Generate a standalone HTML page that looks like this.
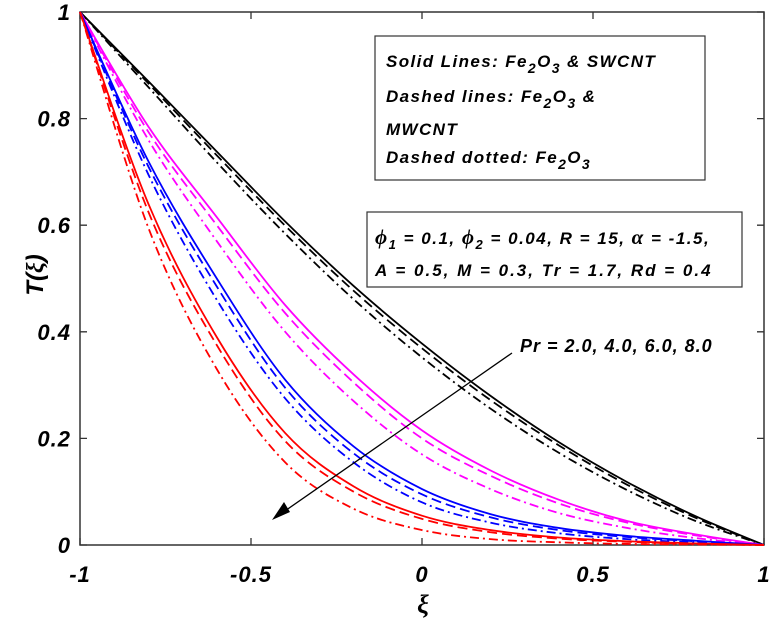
<!DOCTYPE html>
<html><head><meta charset="utf-8"><style>
html,body{margin:0;padding:0;background:#fff;}
svg{display:block;font-family:"Liberation Sans",Arial,sans-serif;}
.t{font-weight:bold;font-style:italic;}
.lg{font-size:17px;letter-spacing:1.4px;}
</style></head><body>
<svg id="chart" width="769" height="624" viewBox="0 0 769 624">
<rect x="80" y="12" width="684" height="533" fill="#fff" stroke="#333" stroke-width="1.5"/>
<g id="ticks"></g>
<g id="curves"></g>
<g>
<rect x="375" y="36" width="330" height="144" fill="#fff" stroke="#333" stroke-width="1.2"/>
<text class="t lg" x="386" y="67">Solid Lines: Fe<tspan dy="6" font-size="14">2</tspan><tspan dy="-6">O</tspan><tspan dy="6" font-size="14">3</tspan><tspan dy="-6"> &amp; SWCNT</tspan></text>
<text class="t lg" x="386" y="102">Dashed lines: Fe<tspan dy="6" font-size="14">2</tspan><tspan dy="-6">O</tspan><tspan dy="6" font-size="14">3</tspan><tspan dy="-6"> &amp;</tspan></text>
<text class="t lg" x="386" y="135">MWCNT</text>
<text class="t lg" x="386" y="163">Dashed dotted: Fe<tspan dy="6" font-size="14">2</tspan><tspan dy="-6">O</tspan><tspan dy="6" font-size="14">3</tspan></text>
</g>
<g>
<rect x="367" y="212" width="375" height="75" fill="#fff" stroke="#333" stroke-width="1.2"/>
<text class="t lg" x="375" y="244" style="letter-spacing:1.5px"><tspan font-family="Liberation Serif" font-size="21">ϕ</tspan><tspan dy="5" font-size="13">1</tspan><tspan dy="-5"> = 0.1, </tspan><tspan font-family="Liberation Serif" font-size="21">ϕ</tspan><tspan dy="5" font-size="13">2</tspan><tspan dy="-5"> = 0.04, R = 15, </tspan><tspan font-family="Liberation Serif" font-size="21">α</tspan><tspan> = -1.5,</tspan></text>
<text class="t lg" x="375" y="276" style="letter-spacing:2px">A = 0.5,  M = 0.3, Tr = 1.7, Rd = 0.4</text>
</g>
<g>
<line x1="512" y1="353" x2="282" y2="513" stroke="#000" stroke-width="1.3"/>
<polygon points="272,520 284,502 290,512" fill="#000"/>
<text class="t" x="520" y="352" font-size="18" style="letter-spacing:1px">Pr = 2.0, 4.0, 6.0, 8.0</text>
</g>
<text class="t" x="0" y="0" font-size="24" transform="translate(43,275) rotate(-90)" text-anchor="middle">T(<tspan font-family="Liberation Serif">ξ</tspan>)</text>
<text class="t" x="423" y="613" font-size="26" font-family="Liberation Serif" text-anchor="middle">ξ</text>
</svg>
<script>
const xTicks=[-1,-0.5,0,0.5,1];
const xTickLabels=["-1","-0.5","0","0.5","1"];
const yTicks=[0,0.2,0.4,0.6,0.8,1];
const yTickLabels=["0","0.2","0.4","0.6","0.8","1"];
const xiValues=[-1,-0.8,-0.6,-0.4,-0.2,0,0.2,0.4,0.6,0.8,1];
const blackSolid=[1,0.87,0.738,0.607,0.486,0.378,0.28,0.193,0.118,0.054,0];
const blackDashed=[1,0.866,0.731,0.599,0.477,0.369,0.272,0.187,0.113,0.051,0];
const blackDashDot=[1,0.859,0.718,0.584,0.461,0.352,0.256,0.173,0.103,0.045,0];
const magentaSolid=[1,0.785,0.615,0.45,0.32,0.215,0.14,0.085,0.045,0.02,0];
const magentaDashed=[1,0.775,0.6,0.435,0.305,0.2,0.13,0.078,0.042,0.018,0];
const magentaDashDot=[1,0.76,0.57,0.4,0.27,0.17,0.105,0.06,0.032,0.013,0];
const blueSolid=[1,0.72,0.5,0.31,0.185,0.105,0.058,0.032,0.017,0.008,0];
const blueDashed=[1,0.71,0.485,0.295,0.172,0.095,0.052,0.028,0.015,0.007,0];
const blueDashDot=[1,0.695,0.46,0.275,0.155,0.08,0.042,0.022,0.011,0.005,0];
const redSolid=[1,0.64,0.39,0.21,0.11,0.055,0.028,0.014,0.007,0.003,0];
const redDashed=[1,0.625,0.375,0.195,0.1,0.049,0.024,0.012,0.006,0.002,0];
const redDashDot=[1,0.595,0.33,0.155,0.068,0.028,0.011,0.005,0.002,0.001,0];
const X0=80,X1=764,Y0=545,Y1=12;
function sx(v){return X0+(v+1)/2*(X1-X0);}
function sy(v){return Y0-v*(Y0-Y1);}
const NS="http://www.w3.org/2000/svg";
const tg=document.getElementById('ticks');
xTicks.forEach((v,i)=>{
 const x=sx(v);
 const l=document.createElementNS(NS,'path');
 l.setAttribute('d',`M${x},${Y0}V${Y0-7}M${x},${Y1}V${Y1+7}`);
 l.setAttribute('stroke','#333');l.setAttribute('stroke-width','1.3');
 
 
 tg.appendChild(l);
 const t=document.createElementNS(NS,'text');
 t.setAttribute('x',x);t.setAttribute('y',582);t.setAttribute('text-anchor','middle');
 t.setAttribute('class','t');t.setAttribute('font-size','22');t.setAttribute('style','letter-spacing:1px');t.textContent=xTickLabels[i];
 
 
 tg.appendChild(t);
});
yTicks.forEach((v,i)=>{
 const y=sy(v);
 const l=document.createElementNS(NS,'path');
 l.setAttribute('d',`M${X0},${y}H${X0+7}M${X1},${y}H${X1-7}`);
 l.setAttribute('stroke','#333');l.setAttribute('stroke-width','1.3');
 
 
 tg.appendChild(l);
 const t=document.createElementNS(NS,'text');
 t.setAttribute('x',71);t.setAttribute('y',y+8);t.setAttribute('text-anchor','end');
 t.setAttribute('class','t');t.setAttribute('font-size','22');t.setAttribute('style','letter-spacing:1px');t.textContent=yTickLabels[i];
 
 
 tg.appendChild(t);
});
function pathFor(vals){
 const p=xiValues.map((x,i)=>[sx(x),sy(vals[i])]);
 let d=`M${p[0][0]},${p[0][1]}`;
 for(let i=0;i<p.length-1;i++){
  const a=p[Math.max(0,i-1)],b=p[i],c=p[i+1],e=p[Math.min(p.length-1,i+2)];
  const c1=[b[0]+(c[0]-a[0])/6,b[1]+(c[1]-a[1])/6];
  const c2=[c[0]-(e[0]-b[0])/6,c[1]-(e[1]-b[1])/6];
  d+=`C${c1[0]},${c1[1]} ${c2[0]},${c2[1]} ${c[0]},${c[1]}`;
 }
 return d;
}
const styles={solid:'',dashed:'10,5',dashdot:'9,4,2,4'};
const series=[
 ['black-solid',blackSolid,'#000','solid'],['black-dashed',blackDashed,'#000','dashed'],['black-dashdot',blackDashDot,'#000','dashdot'],
 ['magenta-solid',magentaSolid,'#f0f','solid'],['magenta-dashed',magentaDashed,'#f0f','dashed'],['magenta-dashdot',magentaDashDot,'#f0f','dashdot'],
 ['blue-solid',blueSolid,'#00f','solid'],['blue-dashed',blueDashed,'#00f','dashed'],['blue-dashdot',blueDashDot,'#00f','dashdot'],
 ['red-solid',redSolid,'#f00','solid'],['red-dashed',redDashed,'#f00','dashed'],['red-dashdot',redDashDot,'#f00','dashdot']
];
const cg=document.getElementById('curves');
series.forEach(s=>{
 const el=document.createElementNS(NS,'path');
 el.setAttribute('d',pathFor(s[1]));
 el.setAttribute('fill','none');el.setAttribute('stroke',s[2]);el.setAttribute('stroke-width','1.8');
 if(styles[s[3]])el.setAttribute('stroke-dasharray',styles[s[3]]);
 
 
 cg.appendChild(el);
});
</script>
</body></html>
